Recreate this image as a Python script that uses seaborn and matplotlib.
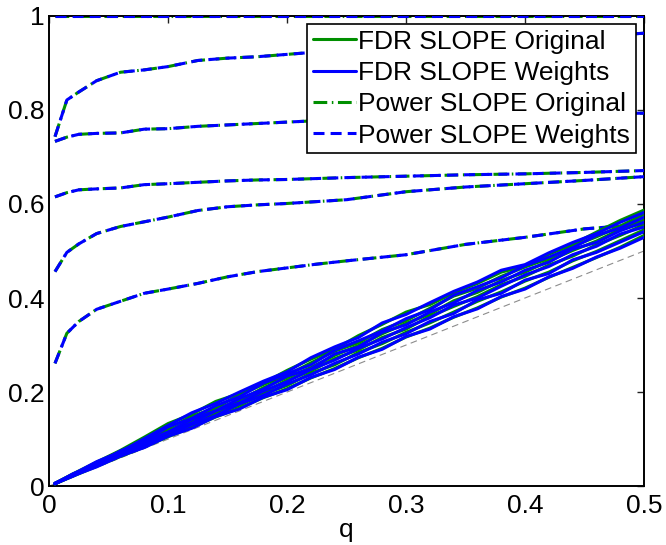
import numpy as np
import pandas as pd
import matplotlib
matplotlib.use("Agg")
import matplotlib.pyplot as plt
from matplotlib.lines import Line2D
import seaborn as sns

# ---- data ----
q_power = [0.005, 0.015, 0.025, 0.04, 0.06, 0.08, 0.1, 0.125, 0.15, 0.175,
           0.2, 0.225, 0.25, 0.3, 0.35, 0.4, 0.45, 0.5]
power_1 = [1.0] * 18
power_2 = [0.743, 0.821, 0.838, 0.862, 0.880, 0.885, 0.892, 0.905, 0.910, 0.913,
           0.918, 0.923, 0.927, 0.934, 0.941, 0.948, 0.955, 0.963]
power_3 = [0.733, 0.742, 0.748, 0.750, 0.751, 0.759, 0.760, 0.765, 0.768, 0.771,
           0.774, 0.777, 0.779, 0.782, 0.785, 0.788, 0.791, 0.793]
power_4 = [0.615, 0.624, 0.630, 0.632, 0.634, 0.641, 0.643, 0.646, 0.649, 0.651,
           0.652, 0.654, 0.656, 0.659, 0.662, 0.664, 0.667, 0.671]
power_5 = [0.456, 0.497, 0.515, 0.537, 0.552, 0.562, 0.572, 0.586, 0.594, 0.598,
           0.601, 0.605, 0.609, 0.626, 0.636, 0.643, 0.650, 0.658]
power_6 = [0.261, 0.325, 0.350, 0.376, 0.393, 0.410, 0.419, 0.431, 0.445, 0.456,
           0.464, 0.472, 0.479, 0.492, 0.514, 0.529, 0.547, 0.557]

q_fdr = [0.005, 0.02, 0.04, 0.06, 0.08, 0.10, 0.12, 0.14, 0.16, 0.18, 0.20, 0.22, 0.24,
         0.26, 0.28, 0.30, 0.32, 0.34, 0.36, 0.38, 0.40, 0.42, 0.44, 0.46, 0.48, 0.50]
fdr_orig_1 = [0.006, 0.026, 0.051, 0.076, 0.104, 0.133, 0.153, 0.180, 0.197, 0.219, 0.246, 0.270, 0.291,
              0.320, 0.344, 0.370, 0.386, 0.411, 0.431, 0.455, 0.468, 0.493, 0.514, 0.540, 0.565, 0.587]
fdr_orig_2 = [0.005, 0.024, 0.049, 0.074, 0.097, 0.123, 0.148, 0.167, 0.194, 0.216, 0.236, 0.262, 0.287,
              0.305, 0.333, 0.352, 0.378, 0.404, 0.421, 0.446, 0.466, 0.484, 0.510, 0.530, 0.553, 0.578]
fdr_orig_3 = [0.006, 0.025, 0.046, 0.071, 0.093, 0.118, 0.139, 0.164, 0.182, 0.209, 0.231, 0.252, 0.278,
              0.299, 0.324, 0.346, 0.366, 0.394, 0.412, 0.437, 0.455, 0.479, 0.501, 0.521, 0.546, 0.566]
fdr_orig_4 = [0.005, 0.023, 0.047, 0.067, 0.092, 0.112, 0.137, 0.157, 0.180, 0.199, 0.225, 0.245, 0.271,
              0.290, 0.316, 0.334, 0.361, 0.382, 0.403, 0.428, 0.446, 0.470, 0.489, 0.513, 0.533, 0.556]
fdr_orig_5 = [0.005, 0.022, 0.044, 0.066, 0.086, 0.110, 0.129, 0.153, 0.172, 0.196, 0.214, 0.240, 0.258,
              0.284, 0.303, 0.327, 0.347, 0.370, 0.393, 0.413, 0.436, 0.455, 0.479, 0.499, 0.522, 0.545]
fdr_orig_6 = [0.005, 0.021, 0.042, 0.063, 0.083, 0.105, 0.125, 0.147, 0.166, 0.188, 0.207, 0.230, 0.250,
              0.273, 0.293, 0.317, 0.336, 0.359, 0.379, 0.402, 0.421, 0.444, 0.465, 0.486, 0.508, 0.533]
fdr_wts_1 = [0.006, 0.025, 0.052, 0.073, 0.101, 0.129, 0.156, 0.176, 0.200, 0.223, 0.243, 0.273, 0.296,
             0.316, 0.347, 0.365, 0.390, 0.414, 0.434, 0.459, 0.471, 0.496, 0.518, 0.537, 0.561, 0.582]
fdr_wts_2 = [0.005, 0.026, 0.047, 0.075, 0.095, 0.126, 0.144, 0.171, 0.190, 0.219, 0.239, 0.258, 0.289,
             0.309, 0.330, 0.356, 0.375, 0.406, 0.424, 0.443, 0.469, 0.487, 0.507, 0.533, 0.549, 0.572]
fdr_wts_3 = [0.006, 0.023, 0.048, 0.069, 0.095, 0.115, 0.142, 0.160, 0.186, 0.206, 0.234, 0.249, 0.281,
             0.296, 0.327, 0.343, 0.370, 0.390, 0.416, 0.434, 0.459, 0.476, 0.504, 0.518, 0.543, 0.561]
fdr_wts_4 = [0.005, 0.024, 0.045, 0.069, 0.089, 0.114, 0.134, 0.160, 0.177, 0.202, 0.222, 0.248, 0.268,
             0.293, 0.313, 0.337, 0.358, 0.385, 0.400, 0.425, 0.449, 0.467, 0.492, 0.510, 0.536, 0.551]
fdr_wts_5 = [0.006, 0.021, 0.045, 0.064, 0.088, 0.107, 0.131, 0.150, 0.175, 0.193, 0.217, 0.237, 0.261,
             0.281, 0.306, 0.324, 0.350, 0.367, 0.396, 0.410, 0.438, 0.452, 0.481, 0.497, 0.519, 0.541]
fdr_wts_6 = [0.005, 0.022, 0.041, 0.064, 0.082, 0.106, 0.123, 0.148, 0.164, 0.189, 0.205, 0.231, 0.248,
             0.274, 0.291, 0.318, 0.334, 0.360, 0.377, 0.403, 0.419, 0.445, 0.463, 0.487, 0.506, 0.529]

diag_q = [0.0, 0.5]

legend_labels = ["FDR SLOPE Original", "FDR SLOPE Weights",
                 "Power SLOPE Original", "Power SLOPE Weights"]
x_ticks = [0, 0.1, 0.2, 0.3, 0.4, 0.5]
x_tick_labels = ["0", "0.1", "0.2", "0.3", "0.4", "0.5"]
y_ticks = [0, 0.2, 0.4, 0.6, 0.8, 1.0]
y_tick_labels = ["0", "0.2", "0.4", "0.6", "0.8", "1"]

# ---- style ----
sns.set_theme(style="white")
plt.rcParams["font.family"] = ["Liberation Sans", "DejaVu Sans"]
for k in ["text.color", "axes.labelcolor", "xtick.color", "ytick.color"]:
    plt.rcParams[k] = "black"

GREEN = "#008f00"
BLUE = "#0000ff"
LW = 2.2
FS = 19
DASHDOT = (0, (4.5, 1.5, 0.5, 1.5))
DASHED = (0, (3.6, 2.0))

fig = plt.figure(figsize=(6.66, 5.45), dpi=100)
ax = fig.add_axes([0.0736, 0.108, 0.8934, 0.863])

powers = [power_1, power_2, power_3, power_4, power_5, power_6]
fdr_orig = [fdr_orig_1, fdr_orig_2, fdr_orig_3, fdr_orig_4, fdr_orig_5, fdr_orig_6]
fdr_wts = [fdr_wts_1, fdr_wts_2, fdr_wts_3, fdr_wts_4, fdr_wts_5, fdr_wts_6]

# reference diagonal
sns.lineplot(x=diag_q, y=diag_q, ax=ax, color="#8c8c8c", lw=0.8,
             linestyle=(0, (6, 4)), zorder=1)

for p in powers:
    sns.lineplot(x=q_power, y=p, ax=ax, color=GREEN, lw=LW,
                 linestyle=DASHDOT, zorder=2)
    sns.lineplot(x=q_power, y=p, ax=ax, color=BLUE, lw=LW,
                 linestyle=DASHED, zorder=3)

for fo in fdr_orig:
    sns.lineplot(x=q_fdr, y=fo, ax=ax, color=GREEN, lw=LW, zorder=4,
                 solid_joinstyle="round")
for fw in fdr_wts:
    sns.lineplot(x=q_fdr, y=fw, ax=ax, color=BLUE, lw=LW, zorder=5,
                 solid_joinstyle="round")

ax.set_xlim(0, 0.5)
ax.set_ylim(0, 1)
ax.set_xticks(x_ticks)
ax.set_xticklabels(x_tick_labels)
ax.set_yticks(y_ticks)
ax.set_yticklabels(y_tick_labels)
ax.tick_params(axis="both", which="both", direction="in", length=5, width=1,
               labelsize=FS, top=True, right=True, color="#222222")
ax.tick_params(axis="x", pad=6)
ax.tick_params(axis="y", pad=3)
for s in ax.spines.values():
    s.set_linewidth(1.4)
    s.set_color("black")
ax.set_xlabel("q", fontsize=FS, labelpad=0)
ax.set_ylabel("")

handles = [Line2D([], [], color=GREEN, lw=LW),
           Line2D([], [], color=BLUE, lw=LW),
           Line2D([], [], color=GREEN, lw=LW, linestyle=DASHDOT),
           Line2D([], [], color=BLUE, lw=LW, linestyle=DASHED)]
leg = ax.legend(handles, legend_labels, loc="upper right", fontsize=FS,
                frameon=True, fancybox=False, framealpha=1, edgecolor="black",
                borderaxespad=0.3, handlelength=1.65, handletextpad=0.08,
                labelspacing=0.28, borderpad=0.22)
leg.get_frame().set_linewidth(1.2)
leg.set_zorder(10)

fig.savefig("out.png", dpi=100)
